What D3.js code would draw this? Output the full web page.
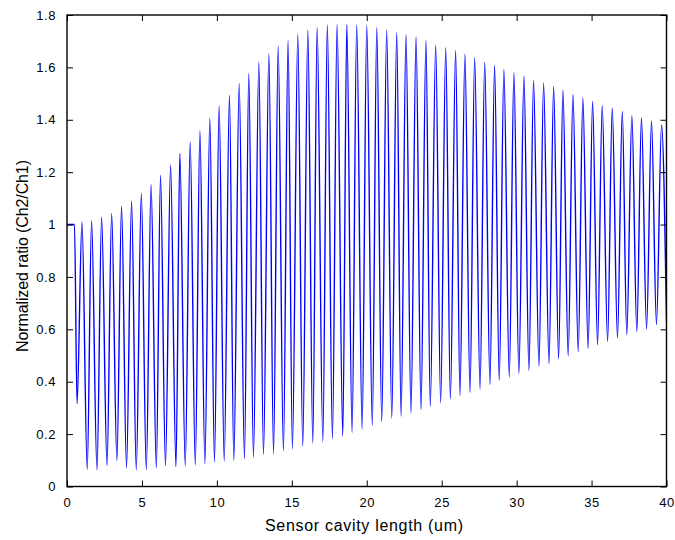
<!DOCTYPE html>
<html>
<head>
<meta charset="utf-8">
<script src="https://cdn.jsdelivr.net/npm/d3@7"></script>
<style>
  body { margin: 0; background: #fff; }
  text { font-family: "Liberation Sans", Arial, sans-serif; }
</style>
</head>
<body>
<script>
const w = 675;
const h = 540;

// flat start of the curve before the first dip
const startX = [0, 0.5];
const startY = [1.0, 1.0];

// minima of the oscillation
const troughX = [0.67, 1.35, 2.0, 2.67, 3.33, 3.97, 4.62, 5.29, 5.96, 6.57,
  7.27, 7.89, 8.56, 9.2, 9.84, 10.49, 11.13, 11.84, 12.44, 13.11,
  13.78, 14.44, 15.04, 15.73, 16.4, 17.07, 17.71, 18.4, 19.02, 19.69,
  20.37, 21.0, 21.67, 22.29, 22.95, 23.62, 24.24, 24.93, 25.58, 26.22,
  26.89, 27.56, 28.22, 28.84, 29.51, 30.15, 30.82, 31.49, 32.16, 32.8,
  33.44, 34.11, 34.77, 35.4, 36.07, 36.73, 37.35, 38.02, 38.67, 39.33];
const troughY = [0.316, 0.066, 0.064, 0.08, 0.099, 0.071, 0.064, 0.064, 0.071, 0.08,
  0.076, 0.078, 0.082, 0.087, 0.094, 0.097, 0.099, 0.105, 0.111, 0.122,
  0.125, 0.135, 0.143, 0.153, 0.166, 0.171, 0.181, 0.194, 0.206, 0.219,
  0.233, 0.247, 0.261, 0.268, 0.28, 0.293, 0.306, 0.319, 0.334, 0.347,
  0.359, 0.372, 0.389, 0.405, 0.418, 0.431, 0.443, 0.459, 0.469, 0.487,
  0.499, 0.515, 0.527, 0.541, 0.554, 0.567, 0.58, 0.592, 0.601, 0.618];

// maxima of the oscillation
const peakX = [1.0, 1.64, 2.31, 2.98, 3.64, 4.31, 4.96, 5.61, 6.24, 6.91,
  7.53, 8.22, 8.87, 9.53, 10.15, 10.84, 11.49, 12.13, 12.8, 13.47,
  14.09, 14.75, 15.4, 16.07, 16.69, 17.37, 18.02, 18.67, 19.33, 20.0,
  20.67, 21.33, 22.0, 22.62, 23.29, 23.95, 24.6, 25.27, 25.93, 26.55,
  27.2, 27.87, 28.53, 29.15, 29.82, 30.49, 31.13, 31.8, 32.47, 33.09,
  33.76, 34.42, 35.07, 35.71, 36.38, 37.05, 37.69, 38.33, 39.0, 39.67];
const peakY = [1.009, 1.015, 1.028, 1.042, 1.07, 1.089, 1.12, 1.152, 1.187, 1.228,
  1.271, 1.315, 1.357, 1.406, 1.453, 1.494, 1.539, 1.577, 1.62, 1.652,
  1.682, 1.704, 1.727, 1.743, 1.752, 1.762, 1.764, 1.764, 1.763, 1.76,
  1.752, 1.743, 1.733, 1.726, 1.717, 1.703, 1.686, 1.675, 1.665, 1.651,
  1.637, 1.62, 1.608, 1.592, 1.58, 1.567, 1.55, 1.541, 1.527, 1.513,
  1.497, 1.483, 1.47, 1.455, 1.444, 1.432, 1.416, 1.408, 1.396, 1.38];

// where the curve leaves the right edge
const endX = [40];
const endY = [0.63];

const xTicks = [0, 5, 10, 15, 20, 25, 30, 35, 40];
const yTicks = [0, 0.2, 0.4, 0.6, 0.8, 1, 1.2, 1.4, 1.6, 1.8];

const mLeft = 67, mRight = 666.5, mTop = 15, mBottom = 486.5;

const svg = d3.select('body')
  .append('svg')
  .attr('width', w)
  .attr('height', h);

const x = d3.scaleLinear().domain([0, 40]).range([mLeft, mRight]);
const y = d3.scaleLinear().domain([0, 1.8]).range([mBottom, mTop]);

let points = [];
startX.forEach((v, i) => points.push([v, startY[i]]));
troughX.forEach((v, i) => {
  points.push([v, troughY[i]]);
  points.push([peakX[i], peakY[i]]);
});
endX.forEach((v, i) => points.push([v, endY[i]]));

svg.append('clipPath')
  .attr('id', 'plotclip')
  .append('rect')
  .attr('x', mLeft)
  .attr('y', mTop)
  .attr('width', mRight - mLeft)
  .attr('height', mBottom - mTop);

const line = d3.line()
  .x(d => x(d[0]))
  .y(d => y(d[1]))
  .curve(d3.curveMonotoneX);

svg.append('path')
  .datum(points)
  .attr('clip-path', 'url(#plotclip)')
  .attr('d', line)
  .attr('fill', 'none')
  .attr('stroke', 'rgb(0,0,255)')
  .attr('stroke-width', 1.4);

const fmt = d => String(+d.toFixed(1));

// axes, ticks point inward like the original
const styleAxis = g => {
  g.select('.domain').remove();
  g.selectAll('line').attr('stroke', '#000').attr('stroke-width', 1);
  g.selectAll('text')
    .attr('fill', '#000')
    .style('font-family', '"Liberation Sans", Arial, sans-serif')
    .style('font-size', '13px')
    .style('letter-spacing', '0.6px');
};

svg.append('g')
  .attr('transform', `translate(0,${mBottom})`)
  .call(d3.axisBottom(x).tickValues(xTicks).tickFormat(fmt)
    .tickSizeInner(-6).tickSizeOuter(0).tickPadding(11))
  .call(styleAxis);

svg.append('g')
  .attr('transform', `translate(${mLeft},0)`)
  .call(d3.axisLeft(y).tickValues(yTicks).tickFormat(fmt)
    .tickSizeInner(-6).tickSizeOuter(0).tickPadding(11))
  .call(styleAxis);

svg.append('g')
  .attr('transform', `translate(0,${mTop})`)
  .call(d3.axisTop(x).tickValues(xTicks).tickFormat('')
    .tickSizeInner(-6).tickSizeOuter(0))
  .call(styleAxis);

svg.append('g')
  .attr('transform', `translate(${mRight},0)`)
  .call(d3.axisRight(y).tickValues(yTicks).tickFormat('')
    .tickSizeInner(-6).tickSizeOuter(0))
  .call(styleAxis);

svg.append('rect')
  .attr('x', mLeft)
  .attr('y', mTop)
  .attr('width', mRight - mLeft)
  .attr('height', mBottom - mTop)
  .attr('fill', 'none')
  .attr('stroke', '#000')
  .attr('stroke-width', 1.4);

svg.append('text')
  .attr('x', 265)
  .attr('y', 531)
  .attr('textLength', 198)
  .attr('lengthAdjust', 'spacing')
  .style('font-size', '16px')
  .text('Sensor cavity length (um)');

svg.append('text')
  .attr('transform', 'translate(28,352) rotate(-90)')
  .attr('textLength', 192)
  .attr('lengthAdjust', 'spacing')
  .style('font-size', '16px')
  .text('Normalized ratio (Ch2/Ch1)');
</script>
</body>
</html>
